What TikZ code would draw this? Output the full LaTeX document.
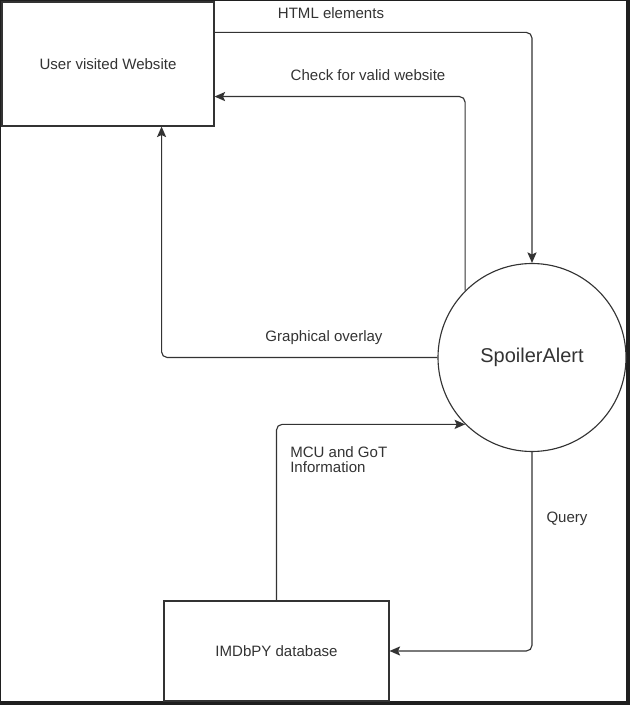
\documentclass[tikz,border=0pt]{standalone}
\usepackage{fontspec}
\setmainfont{Liberation Sans}
\usetikzlibrary{arrows.meta,positioning,calc}
\definecolor{frame}{HTML}{1F1F1F}
\definecolor{ink}{HTML}{333333}

\begin{document}
\begin{tikzpicture}[
    txt/.style={text=ink, font=\fontsize{10.7pt}{11pt}\selectfont},
    box/.style={draw=ink, line width=0.8pt, fill=white, inner sep=0pt, txt},
    proc/.style={circle, draw=ink, line width=0.8pt, fill=white, minimum size=4.7cm,
        text=ink, font=\fontsize{14.2pt}{16pt}\selectfont},
    flow/.style={draw=ink, line width=0.8pt, rounded corners=4pt,
        -{Stealth[length=7.5pt, width=6.5pt, inset=1.5pt]}}
]
    % Dark screenshot frame
    \useasboundingbox[fill=frame] (0,0) rectangle (15.75,17.625);
    \fill[white] (0.025,0.1) rectangle (15.65,17.6);

    % Entities and process
    \node[box, minimum width=5.3cm, minimum height=3.1cm] (site) at (2.7,16.025) {User visited Website};
    \node[box, minimum width=5.625cm, minimum height=2.5cm] (imdb) at (6.9125,1.35) {IMDbPY database};
    \node[proc] (spoiler) at (13.3,8.6875) {SpoilerAlert};

    % Data flows
    \draw[flow] ([yshift=-0.775cm]site.north east) -| (spoiler.north);
    \draw[flow] (spoiler.135) |- ([yshift=0.75cm]site.south east);
    \draw[flow] (spoiler.west) -| ([xshift=-1.325cm]site.south east);
    \draw[flow] (imdb.north) |- (spoiler.225);
    \draw[flow] (spoiler.south) |- (imdb.east);

    % Flow labels
    \node[txt] (htmllbl) at (8.275,17.3) {HTML elements};
    \node[txt] (checklbl) at (9.2,15.75) {Check for valid website};
    \node[txt] (overlaylbl) at (8.1,9.175) {Graphical overlay};
    \node[txt, align=left, anchor=west, inner sep=0pt] (infolbl) at (7.25,6.14) {MCU and GoT\\Information};
    \node[txt] (querylbl) at (14.175,4.65) {Query};
\end{tikzpicture}
\end{document}
